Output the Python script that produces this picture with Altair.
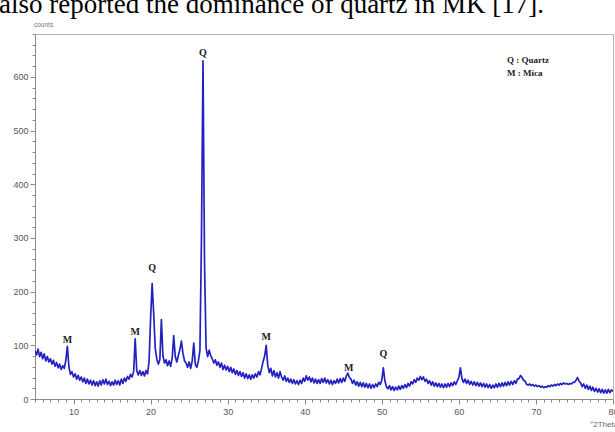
import altair as alt
import pandas as pd

# ---- data ----
START_ANGLE = 5.0
STEP = 0.2
counts = [
    90, 82, 93, 79, 87,   75, 84, 71, 79, 69,   75, 65, 72, 61, 68,   58, 65, 55, 62, 57,
    72, 98, 60, 46, 51,   41, 47, 37, 44, 35,   41, 32, 39, 29, 37,   28, 35, 26, 34, 25,
    32, 24, 34, 26, 36,   28, 37, 27, 33, 25,   32, 26, 35, 27, 34,   26, 37, 29, 39, 33,
    42, 37, 46, 41, 51,   112, 53, 45, 53, 44,  51, 43, 53, 47, 70,   150, 215, 160, 95, 75,
    65, 73, 148, 81, 67,  73, 62, 71, 61, 76,   118, 79, 69, 81, 92,  108, 85, 71, 67, 59,
    69, 57, 71, 104, 65,  59, 71, 90, 300, 630, 250, 95, 79, 91, 81,  75, 67, 73, 63, 69,
    59, 67, 55, 63, 54,   61, 51, 59, 49, 56,   46, 53, 44, 51, 42,   49, 39, 47, 38, 45,
    37, 45, 39, 47, 41,   51, 45, 57, 70, 80,   100, 63, 49, 57, 43,  53, 41, 49, 39, 51,
    41, 35, 43, 33, 39,   31, 37, 29, 36, 28,   34, 27, 35, 29, 39,   33, 43, 35, 41, 32,
    39, 30, 37, 29, 36,   29, 38, 31, 39, 30,   36, 28, 35, 27, 34,   29, 37, 30, 38, 31,
    39, 33, 43, 48, 40,   37, 29, 35, 26, 32,   24, 31, 23, 30, 22,   29, 21, 28, 20, 27,
    21, 28, 23, 31, 27,   35, 58, 34, 23, 19,   25, 17, 23, 16, 22,   17, 24, 18, 25, 20,
    27, 21, 29, 24, 32,   28, 36, 31, 39, 35,   42, 36, 41, 33, 37,   29, 34, 26, 32, 24,
    30, 23, 29, 22, 28,   21, 28, 22, 29, 23,   30, 25, 32, 27, 34,   40, 58, 38, 31, 37,
    29, 35, 27, 33, 26,   32, 25, 31, 24, 30,   23, 29, 22, 28, 21,   27, 20, 26, 21, 28,
    22, 29, 23, 30, 24,   31, 25, 32, 26, 33,   27, 34, 29, 37, 38,   44, 40, 35, 33, 27,
    26, 28, 25, 27, 24,   26, 23, 25, 22, 24,   21, 23, 22, 25, 23,   26, 24, 27, 25, 28,
    26, 29, 27, 30, 28,   29, 27, 29, 28, 31,   31, 35, 40, 33, 30,   23, 28, 20, 26, 18,
    24, 16, 22, 14, 20,   13, 19, 12, 18, 11,   17, 11, 18, 12, 17,
    14,
]
angles = [round(START_ANGLE + i * STEP, 1) for i in range(len(counts))]

peak_labels = ["M", "M", "Q", "Q", "M", "M", "Q"]
peak_angles = [9.2, 18.0, 20.2, 26.8, 35.0, 45.7, 50.2]
peak_label_counts = [110, 124, 244, 645, 116, 58, 84]

legend_lines = ["Q : Quartz", "M : Mica"]
x_ticks = list(range(5, 81))
y_ticks = list(range(0, 681, 20))

heading_text = ["also reported the dominance of quartz in MK [17]."]
y_title = ["counts"]
x_title = ["°2Theta"]

# ---- tables ----
pattern = pd.DataFrame({"angle": angles, "counts": counts})
peaks = pd.DataFrame({"angle": peak_angles, "counts": peak_label_counts, "label": peak_labels})

W, H = 578, 365

x_scale = alt.Scale(domain=[5, 80], nice=False, zero=False)
y_scale = alt.Scale(domain=[0, 680], nice=False, zero=True)

axis_common = dict(
    grid=False,
    domainColor="#8a8a8a",
    tickColor="#8a8a8a",
    labelColor="#555555",
    labelFont="Liberation Sans",
    labelFontSize=9,
    labelOverlap=False,
    labelFlush=False,
    title=None,
)

x_axis = alt.Axis(
    values=x_ticks,
    labelExpr="datum.value % 10 === 0 ? datum.label : ''",
    tickSize={"condition": {"test": "datum.value % 10 === 0", "value": 5}, "value": 3},
    labelPadding=3,
    **axis_common,
)
y_axis = alt.Axis(
    values=y_ticks,
    labelExpr="datum.value % 100 === 0 ? datum.label : ''",
    tickSize={"condition": {"test": "datum.value % 100 === 0", "value": 5}, "value": 3},
    labelPadding=2,
    **axis_common,
)

line = alt.Chart(pattern).mark_line(
    color="#2222c0", strokeWidth=1.7, strokeJoin="round", clip=True
).encode(
    x=alt.X("angle:Q", scale=x_scale, axis=x_axis),
    y=alt.Y("counts:Q", scale=y_scale, axis=y_axis),
)

peak_text = alt.Chart(peaks).mark_text(
    font="Liberation Serif", fontWeight="bold", fontSize=10, color="#222222",
    baseline="middle", align="center",
).encode(
    x=alt.X("angle:Q", scale=x_scale, axis=x_axis),
    y=alt.Y("counts:Q", scale=y_scale, axis=y_axis),
    text="label:N",
)


def fixed_text(values, x, y, **mark):
    return alt.Chart(pd.DataFrame({"t": values})).mark_text(**mark).encode(
        x=alt.value(x), y=alt.value(y), text="t:N"
    )


legend_q = fixed_text(legend_lines[:1], 472, 26, font="Liberation Serif", fontWeight="bold",
                      fontSize=9, color="#222222", align="left", baseline="middle")
legend_m = fixed_text(legend_lines[1:], 472, 39, font="Liberation Serif", fontWeight="bold",
                      fontSize=9, color="#222222", align="left", baseline="middle")

heading = fixed_text(heading_text, -36, -21, font="Liberation Serif", fontSize=27,
                     color="#000000", align="left", baseline="alphabetic")

counts_label = fixed_text(y_title, -1, -9, font="Liberation Sans", fontSize=6.5,
                          color="#777777", align="left", baseline="middle")

theta_label = fixed_text(x_title, 555, 391, font="Liberation Sans", fontSize=8,
                         color="#666666", align="left", baseline="middle")

chart = alt.layer(
    line, peak_text, legend_q, legend_m, heading, counts_label, theta_label
).properties(
    width=W,
    height=H,
    padding={"left": 35, "top": 34, "right": 2, "bottom": 33},
    autosize=alt.AutoSizeParams(type="none"),
    background="#ffffff",
).configure_view(stroke="#b5b5b5", strokeWidth=1)

chart.save("out.html", embed_options={"renderer": "svg", "actions": False})
